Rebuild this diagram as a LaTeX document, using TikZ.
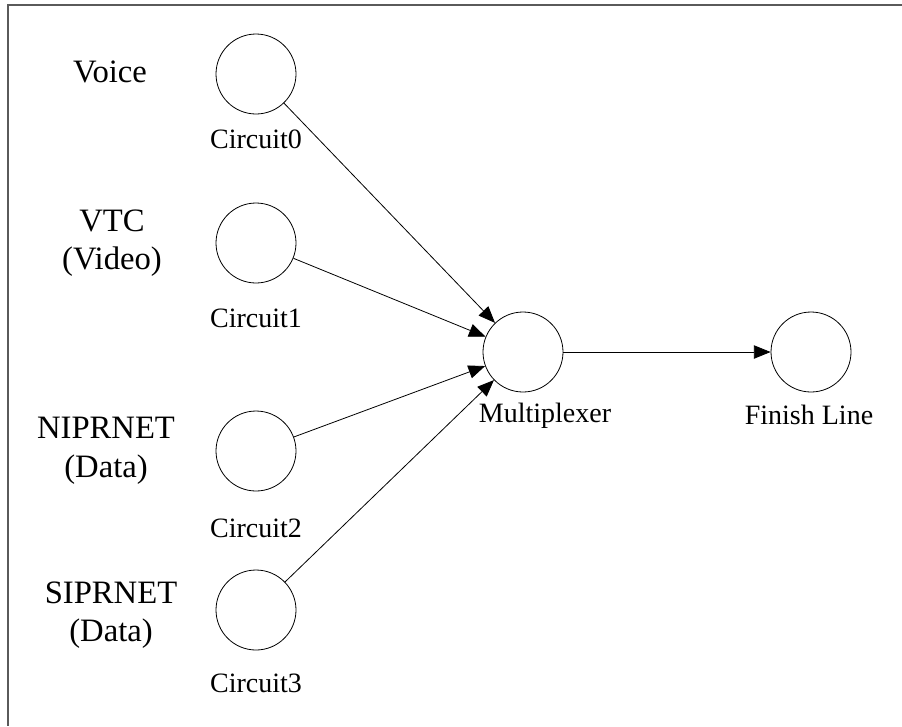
\documentclass[tikz,border=0pt]{standalone}
\usepackage{fontspec}
\setmainfont{Liberation Serif}
\usepackage{tikz}
\usetikzlibrary{positioning,arrows.meta}
\definecolor{muxgray}{HTML}{5A5A5A}
\tikzset{
    circ/.style={circle,draw,minimum size=60pt,inner sep=0pt,line width=0.6pt},
    source/.style={font=\fontsize{24.5}{29}\selectfont,align=center},
    cname/.style={font=\fontsize{21}{25}\selectfont,anchor=base},
    every edge/.style={draw,->,>={Triangle[length=12.5pt,width=10pt]},line width=0.6pt},
}
\begin{document}
\begin{tikzpicture}[x=0.75pt,y=-0.75pt]
    \useasboundingbox (0,0) rectangle (902,726);
    \draw[muxgray,line width=1.4pt] (902,5) -- (8,5) -- (8,726);

    % sources
    \node[source,anchor=base] (voice) at (110,82) {Voice};
    \node[source] (vtc) at (112,243) {VTC\\(Video)};
    \node[source] (nipr) at (106,451) {NIPRNET\\(Data)};
    \node[source] (sipr) at (111,615) {SIPRNET\\(Data)};

    % circuits
    \node[circ] (c0) at (256,74) {};
    \node[circ] (c1) at (256,243) {};
    \node[circ] (c2) at (256,451) {};
    \node[circ] (c3) at (256,610) {};
    \node[cname] (c0name) at (256,148) {Circuit0};
    \node[cname] (c1name) at (256,327) {Circuit1};
    \node[cname] (c2name) at (256,537) {Circuit2};
    \node[cname] (c3name) at (256,692) {Circuit3};

    \node[circ] (mux) at (523,352) {};
    \node[cname] (muxname) at (545,422) {Multiplexer};
    \node[circ] (fin) at (811,352) {};
    \node[cname] (finname) at (809,424) {Finish Line};

    \path
    (c0) edge (mux)
    (c1) edge (mux)
    (c2) edge (mux)
    (c3) edge (mux)
    (mux) edge (fin);
\end{tikzpicture}
\end{document}
